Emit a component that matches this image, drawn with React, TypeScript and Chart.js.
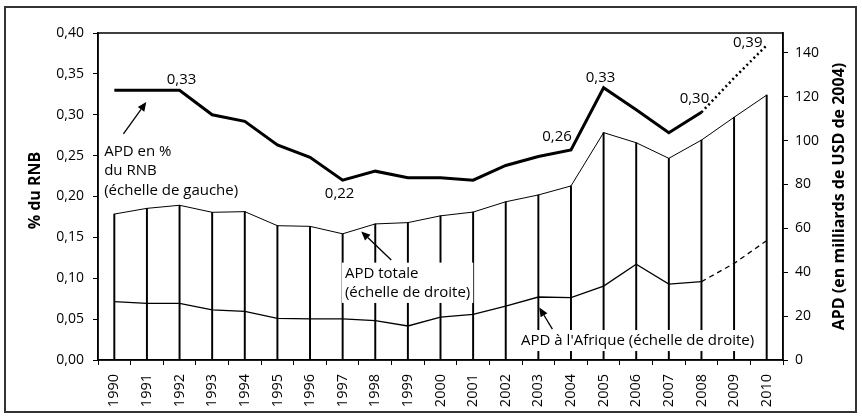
import React, { useEffect, useRef } from 'react';
import { Chart, registerables } from 'chart.js';

Chart.register(...registerables);

const years = ['1990', '1991', '1992', '1993', '1994', '1995', '1996', '1997', '1998', '1999', '2000', '2001', '2002', '2003', '2004', '2005', '2006', '2007', '2008', '2009', '2010'];

// APD en % du RNB (left axis)
const apdPctRnb = [0.33, 0.33, 0.33, 0.30, 0.292, 0.263, 0.248, 0.22, 0.231, 0.223, 0.223, 0.22, 0.238, 0.249, 0.257, 0.333, 0.306, 0.278, 0.303, null, null];
const apdPctRnbProj = [null, null, null, null, null, null, null, null, null, null, null, null, null, null, null, null, null, null, 0.303, 0.345, 0.385];

// APD totale, milliards USD 2004 (right axis)
const apdTotal = [66.5, 69.1, 70.5, 67.3, 67.6, 61.2, 60.9, 57.5, 62.0, 62.6, 65.7, 67.4, 72.1, 75.2, 79.3, 103.6, 99.0, 91.9, 100.2, 110.6, 120.7];

// APD à l'Afrique (right axis)
const apdAfrica = [26.6, 25.8, 25.8, 22.8, 22.2, 19.0, 18.7, 18.7, 17.9, 15.5, 19.5, 20.8, 24.6, 28.7, 28.4, 33.7, 43.6, 34.6, 35.7, null, null];
const apdAfricaProj = [null, null, null, null, null, null, null, null, null, null, null, null, null, null, null, null, null, null, 35.7, 44.0, 54.4];

// value labels on the % line: [year index, text]
const pctLabelIdx = [2, 7, 14, 15, 18, 20];
const pctLabelText = ['0,33', '0,22', '0,26', '0,33', '0,30', '0,39'];

const leftTitle = '% du RNB';
const rightTitle = 'APD (en milliards de USD de 2004)';

const FONT = '"Open Sans", sans-serif';

const overlayPlugin = {
  id: 'overlay',
  afterDatasetsDraw(chart: any) {
    const { ctx, chartArea, scales } = chart;
    const x = scales.x, yl = scales.y, yr = scales.y1;
    ctx.save();

    // value labels
    const offs = [[2, -12], [-3, 12], [-14, -14], [-3, -11], [-7, -15], [-19, -4]];
    ctx.font = `15px ${FONT}`;
    ctx.fillStyle = '#000';
    ctx.textAlign = 'center';
    ctx.textBaseline = 'alphabetic';
    pctLabelIdx.forEach((i, k) => {
      const v = i >= 18 && apdPctRnb[i] == null ? apdPctRnbProj[i] : apdPctRnb[i];
      const px = x.getPixelForValue(i) + offs[k][0];
      const py = yl.getPixelForValue(v) + offs[k][1] + 5.4;
      ctx.fillText(pctLabelText[k], px, py);
    });

    const drawArrow = (x0: number, y0: number, x1: number, y1: number) => {
      ctx.strokeStyle = '#000';
      ctx.fillStyle = '#000';
      ctx.lineWidth = 1.3;
      const a = Math.atan2(y1 - y0, x1 - x0);
      const hl = 9, hw = 4;
      const bx = x1 - hl * Math.cos(a), by = y1 - hl * Math.sin(a);
      ctx.beginPath();
      ctx.moveTo(x0, y0);
      ctx.lineTo(bx, by);
      ctx.stroke();
      ctx.beginPath();
      ctx.moveTo(x1, y1);
      ctx.lineTo(bx + hw * Math.sin(a), by - hw * Math.cos(a));
      ctx.lineTo(bx - hw * Math.sin(a), by + hw * Math.cos(a));
      ctx.closePath();
      ctx.fill();
    };

    const drawText = (lines: string[], lx: number, cy: number, box: boolean) => {
      ctx.font = `15px ${FONT}`;
      ctx.textAlign = 'left';
      ctx.textBaseline = 'alphabetic';
      const lh = 19.3;
      if (box) {
        const w = Math.max(...lines.map((l) => ctx.measureText(l).width));
        ctx.fillStyle = '#fff';
        ctx.fillRect(lx - 3, cy - 10, w + 6, (lines.length - 1) * lh + 21);
      }
      ctx.fillStyle = '#000';
      lines.forEach((l, i) => ctx.fillText(l, lx, cy + i * lh + 5.4));
    };

    // annotation 1 (left scale)
    drawText(['APD en %', 'du RNB', '(échelle de gauche)'], x.getPixelForValue(-0.31), yl.getPixelForValue(0.256), false);
    drawArrow(x.getPixelForValue(0.28), yl.getPixelForValue(0.2765), x.getPixelForValue(0.98), yl.getPixelForValue(0.3156));

    // annotation 2 (right scale)
    drawText(['APD totale', '(échelle de droite)'], x.getPixelForValue(7.07), yr.getPixelForValue(39.8), true);
    drawArrow(x.getPixelForValue(8.49), yr.getPixelForValue(45.6), x.getPixelForValue(7.57), yr.getPixelForValue(58.6));

    // annotation 3
    drawText(["APD à l'Afrique (échelle de droite)"], x.getPixelForValue(12.47), yr.getPixelForValue(9.1), true);
    drawArrow(x.getPixelForValue(13.43), yr.getPixelForValue(14.1), x.getPixelForValue(13.03), yr.getPixelForValue(23.9));

    // plot frame
    ctx.strokeStyle = '#000';
    ctx.lineWidth = 1.5;
    ctx.strokeRect(chartArea.left, chartArea.top, chartArea.right - chartArea.left, chartArea.bottom - chartArea.top);

    // axis titles
    ctx.font = `bold 16px ${FONT}`;
    ctx.fillStyle = '#000';
    ctx.textAlign = 'center';
    ctx.textBaseline = 'middle';
    const cy = (chartArea.top + chartArea.bottom) / 2;
    ctx.save();
    ctx.translate(35, cy - 6);
    ctx.rotate(-Math.PI / 2);
    ctx.fillText(leftTitle, 0, 0);
    ctx.restore();
    ctx.save();
    ctx.translate(839, cy);
    ctx.rotate(-Math.PI / 2);
    ctx.fillText(rightTitle, 0, 0);
    ctx.restore();

    // outer border
    ctx.strokeStyle = '#333';
    ctx.lineWidth = 2;
    ctx.strokeRect(5, 7, 851, 405);
    ctx.restore();
  },
};

export default function App() {
  const ref = useRef<HTMLCanvasElement>(null);
  useEffect(() => {
    const tickFont = { family: FONT, size: 14 };
    const chart = new Chart(ref.current as HTMLCanvasElement, {
      type: 'line',
      data: {
        labels: years,
        datasets: [
          { type: 'bar', data: apdTotal, yAxisID: 'y1', backgroundColor: '#000', barThickness: 1.3, order: 10 } as any,
          { data: apdTotal, yAxisID: 'y1', borderColor: '#000', borderWidth: 1, pointRadius: 0, order: 3 },
          { data: apdAfrica, yAxisID: 'y1', borderColor: '#000', borderWidth: 1.3, pointRadius: 0, order: 2 },
          { data: apdAfricaProj, yAxisID: 'y1', borderColor: '#000', borderWidth: 1.3, borderDash: [5, 4], pointRadius: 0, order: 2 },
          { data: apdPctRnb, yAxisID: 'y', borderColor: '#000', borderWidth: 3, pointRadius: 0, order: 1 },
          { data: apdPctRnbProj, yAxisID: 'y', borderColor: '#000', borderWidth: 2.5, borderDash: [2, 3], pointRadius: 0, order: 1 },
        ],
      },
      options: {
        responsive: false,
        animation: false,
        devicePixelRatio: 1,
        layout: { padding: { top: 33, left: 0, right: 0, bottom: 0 } },
        plugins: { legend: { display: false }, tooltip: { enabled: false } },
        scales: {
          x: {
            type: 'category',
            offset: true,
            grid: { offset: true, drawOnChartArea: false, tickLength: 5, color: '#000', lineWidth: 1 },
            border: { color: '#000', width: 1.5 },
            ticks: { maxRotation: 90, minRotation: 90, autoSkip: false, padding: 9, color: '#000', font: { family: FONT, size: 14.5 } },
            afterFit: (s: any) => { s.height = 59; },
          },
          y: {
            position: 'left',
            min: 0,
            max: 0.4,
            grid: { drawOnChartArea: false, tickLength: 5, color: '#000', lineWidth: 1 },
            border: { color: '#000', width: 1.5 },
            ticks: { stepSize: 0.05, padding: 9, color: '#000', font: tickFont, callback: (v: any) => Number(v).toFixed(2).replace('.', ',') },
            afterFit: (s: any) => { s.width = 98; },
          },
          y1: {
            position: 'right',
            min: 0,
            max: 149,
            grid: { drawOnChartArea: false, tickLength: 5, color: '#000', lineWidth: 1 },
            border: { color: '#000', width: 1.5 },
            ticks: { stepSize: 20, padding: 7, color: '#000', font: tickFont },
            afterBuildTicks: (s: any) => { s.ticks = s.ticks.filter((t: any) => t.value <= 140); },
            afterFit: (s: any) => { s.width = 79; },
          },
        },
      },
      plugins: [overlayPlugin],
    });
    return () => chart.destroy();
  }, []);
  return (
    <div style={{ position: 'absolute', left: 0, top: 0, width: 862, height: 419, background: '#fff' }}>
      <canvas ref={ref} width={862} height={419} />
    </div>
  );
}
